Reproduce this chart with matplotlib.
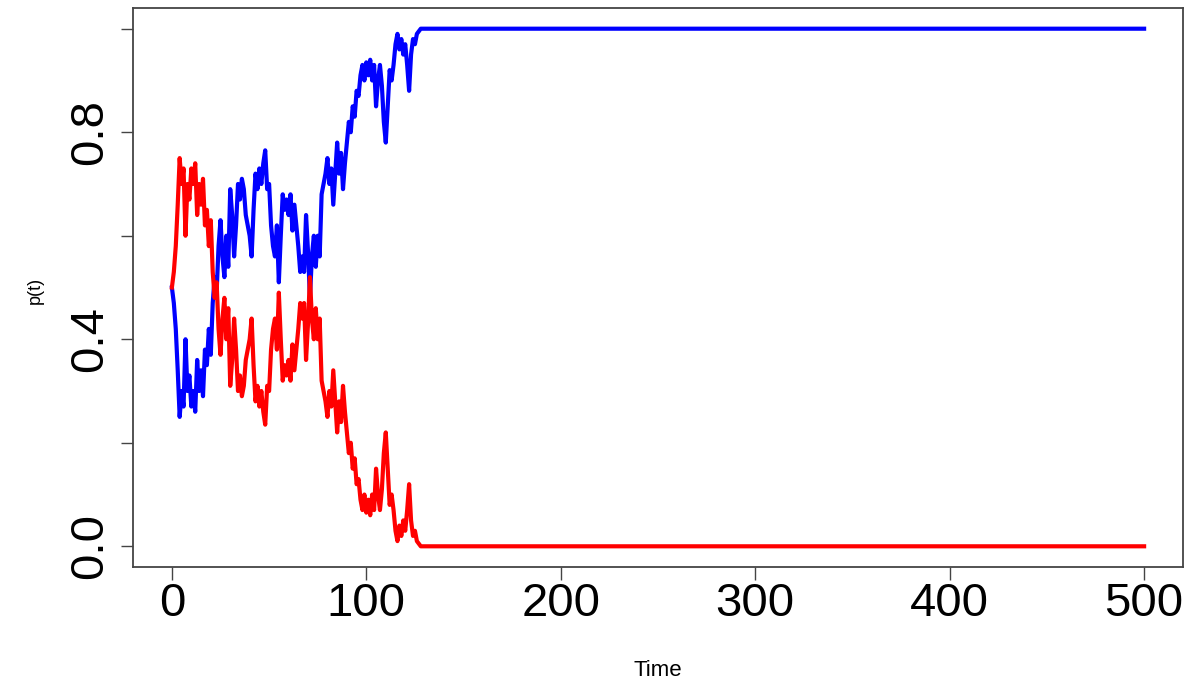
import matplotlib
matplotlib.use("Agg")
import matplotlib.pyplot as plt

plt.rcParams['font.family'] = ['Liberation Sans', 'DejaVu Sans']

# Allele frequency p(t) of one allele under drift, until it fixes at 1
p_drift = [
    0.500, 0.470, 0.420, 0.340, 0.250, 0.300, 0.270, 0.400, 0.300, 0.330,
    0.270, 0.300, 0.260, 0.360, 0.300, 0.340, 0.290, 0.380, 0.350, 0.420,
    0.370, 0.470, 0.520, 0.490, 0.580, 0.630, 0.560, 0.520, 0.600, 0.540,
    0.690, 0.640, 0.560, 0.620, 0.700, 0.670, 0.710, 0.690, 0.640, 0.620,
    0.600, 0.560, 0.650, 0.720, 0.690, 0.730, 0.700, 0.740, 0.765, 0.690,
    0.700, 0.620, 0.580, 0.560, 0.620, 0.510, 0.600, 0.680, 0.650, 0.670,
    0.640, 0.680, 0.610, 0.660, 0.620, 0.580, 0.530, 0.560, 0.530, 0.640,
    0.570, 0.480, 0.560, 0.600, 0.540, 0.600, 0.560, 0.680, 0.700, 0.720,
    0.750, 0.700, 0.730, 0.660, 0.720, 0.780, 0.720, 0.760, 0.690, 0.740,
    0.780, 0.820, 0.800, 0.850, 0.830, 0.880, 0.870, 0.910, 0.930, 0.900,
    0.935, 0.910, 0.940, 0.900, 0.930, 0.850, 0.900, 0.930, 0.890, 0.820,
    0.780, 0.850, 0.920, 0.900, 0.930, 0.970, 0.990, 0.960, 0.980, 0.950,
    0.970, 0.930, 0.880, 0.950, 0.980, 0.970, 0.990, 0.995,
]
p_fixed = 1.0
n_generations = 500

p = p_drift + [p_fixed] * (n_generations + 1 - len(p_drift))
q = [1.0 - v for v in p]
time = list(range(n_generations + 1))

x_ticks = [0, 100, 200, 300, 400, 500]
y_ticks = [0.0, 0.2, 0.4, 0.6, 0.8, 1.0]
y_tick_labels = ["0.0", "", "0.4", "", "0.8", ""]

fig = plt.figure(figsize=(11.99, 6.81), dpi=100)
ax = fig.add_axes([133 / 1199, 1 - 567 / 681, (1183 - 133) / 1199, (567 - 8) / 681])

ax.plot(time, p, color="#0000ff", lw=3.0, solid_joinstyle="round")
ax.plot(time, q, color="#ff0000", lw=3.0, solid_joinstyle="round")

ax.set_xlim(-20, 520)
ax.set_ylim(-0.04, 1.04)

ax.set_xticks(x_ticks)
ax.set_xticklabels([str(v) for v in x_ticks])
ax.set_yticks(y_ticks)
ax.set_yticklabels(y_tick_labels, rotation=90, va="center")

for s in ax.spines.values():
    s.set_color("#444444")
    s.set_linewidth(1.3)

ax.tick_params(axis="both", direction="out", length=9, width=1.0,
               color="#444444", labelsize=34, labelcolor="black")
ax.tick_params(axis="x", pad=2)
ax.tick_params(axis="y", pad=6)

fig.text(658 / 1199, 1 - 670 / 681, "Time", ha="center", va="center", fontsize=16)
fig.text(35 / 1199, 1 - 290 / 681, "p(t)", ha="center", va="center",
         rotation=90, fontsize=13)

fig.savefig("out.png", dpi=100)
